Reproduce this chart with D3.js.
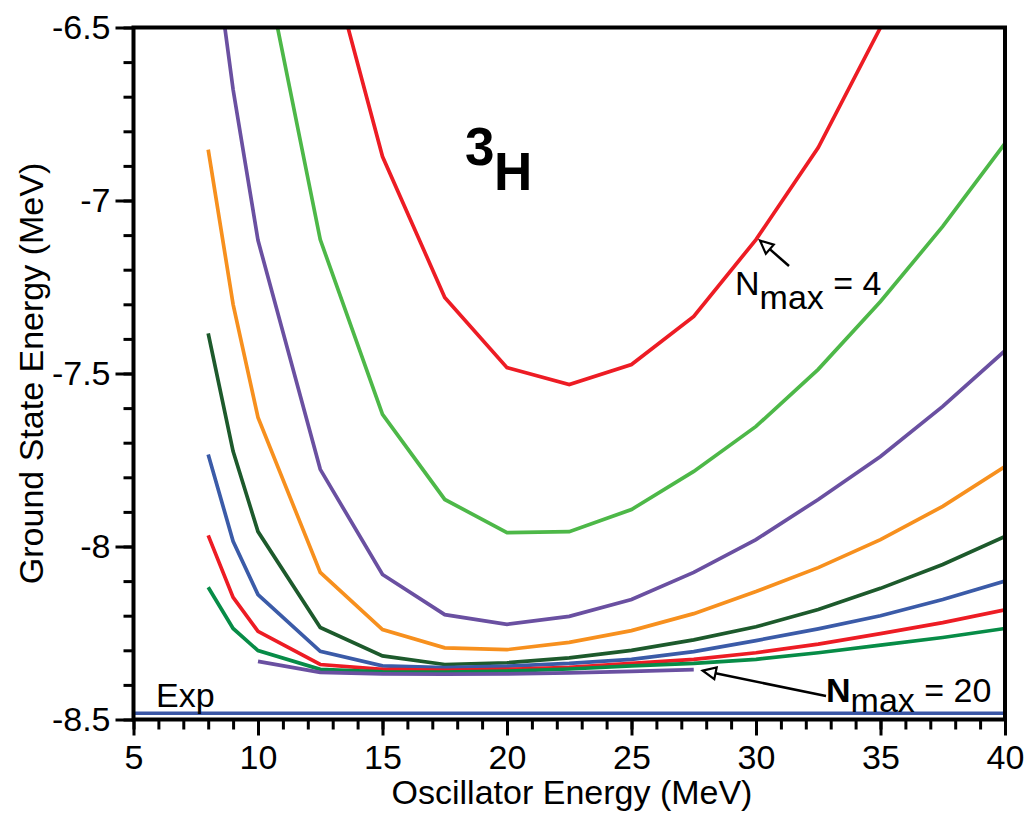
<!DOCTYPE html>
<html>
<head>
<meta charset="utf-8">
<script src="https://cdn.jsdelivr.net/npm/d3@7"></script>
<style>
  html, body { margin: 0; padding: 0; background: #fff; }
  svg { display: block; font-family: "Liberation Sans", Arial, Helvetica, sans-serif; }
</style>
</head>
<body>
<svg id="chart" width="1028" height="813"></svg>
<script>
// Oscillator energies (MeV) at which the ground state was computed
const hw = [8, 9, 10, 12.5, 15, 17.5, 20, 22.5, 25, 27.5, 30, 32.5, 35, 37.5, 40];

// Ground state energy (MeV) of 3H for each model-space truncation Nmax
const nmaxValues = [4, 6, 8, 10, 12, 14, 16, 18, 20];
const eN4  = [null, null, null, -6.20, -6.873, -7.280, -7.483, -7.532, -7.474, -7.335, -7.113, -6.847, -6.50, null, null];
const eN6  = [null, null, -6.22, -7.113, -7.618, -7.864, -7.960, -7.957, -7.893, -7.783, -7.653, -7.488, -7.292, -7.075, -6.835];
const eN8  = [-6.14, -6.679, -7.115, -7.777, -8.081, -8.197, -8.225, -8.202, -8.153, -8.075, -7.980, -7.864, -7.740, -7.595, -7.434];
const eN10 = [-6.853, -7.300, -7.627, -8.075, -8.240, -8.293, -8.298, -8.277, -8.243, -8.194, -8.130, -8.061, -7.980, -7.884, -7.769];
const eN12 = [-7.384, -7.725, -7.957, -8.234, -8.316, -8.341, -8.336, -8.322, -8.300, -8.270, -8.232, -8.182, -8.121, -8.052, -7.971];
const eN14 = [-7.734, -7.985, -8.139, -8.303, -8.345, -8.350, -8.346, -8.338, -8.326, -8.304, -8.272, -8.238, -8.200, -8.153, -8.100];
const eN16 = [-7.968, -8.147, -8.245, -8.341, -8.355, -8.358, -8.355, -8.349, -8.338, -8.326, -8.307, -8.282, -8.252, -8.220, -8.183];
const eN18 = [-8.118, -8.237, -8.301, -8.355, -8.362, -8.363, -8.360, -8.354, -8.345, -8.338, -8.326, -8.307, -8.285, -8.263, -8.237];
const eN20 = [null, null, -8.332, -8.364, -8.368, -8.369, -8.368, -8.365, -8.361, -8.356, null, null, null, null, null];
const seriesValues = [eN4, eN6, eN8, eN10, eN12, eN14, eN16, eN18, eN20];

// Experimental binding energy
const expEnergy = -8.482;

// Axis ticks
const xTicks = [5, 10, 15, 20, 25, 30, 35, 40];
const xMinorTicks = d3.range(5, 41, 1);
const yTicks = [-6.5, -7, -7.5, -8, -8.5];
const yMinorTicks = d3.range(-85, -64, 1).map(v => v / 10);

// Line colours, one per Nmax
const lineColors = ["#ed1c24", "#4db848", "#6a50a1", "#f7901e", "#1d5a2c",
                    "#3b5ba8", "#ed1c24", "#078c47", "#6a50a1"];
const expColor = "#3a56a5";

const svg = d3.select("#chart");
const plotLeft = 133.5, plotRight = 1005, plotTop = 27.5, plotBottom = 719.5;

const x = d3.scaleLinear().domain([5, 40]).range([plotLeft, plotRight]);
const y = d3.scaleLinear().domain([-8.5, -6.5]).range([plotBottom, plotTop]);

svg.append("defs").append("clipPath").attr("id", "plot-clip")
  .append("rect")
  .attr("x", plotLeft).attr("y", plotTop)
  .attr("width", plotRight - plotLeft).attr("height", plotBottom - plotTop);

const plot = svg.append("g").attr("clip-path", "url(#plot-clip)");

// Experimental value
plot.append("line")
  .attr("x1", x(5)).attr("x2", x(40))
  .attr("y1", y(expEnergy)).attr("y2", y(expEnergy))
  .attr("stroke", expColor).attr("stroke-width", 3.5);

// Nmax curves
const line = d3.line()
  .defined(d => d[1] !== null)
  .x(d => x(d[0]))
  .y(d => y(d[1]));

seriesValues.forEach((vals, i) => {
  const pts = hw.map((h, j) => [h, vals[j]]);
  plot.append("path")
    .datum(pts)
    .attr("d", line)
    .attr("fill", "none")
    .attr("stroke", lineColors[i])
    .attr("stroke-width", 3.7)
    .attr("stroke-linejoin", "miter");
});

// Axes
const fontSize = 34;

const yMinor = svg.append("g").attr("transform", `translate(${plotLeft},0)`)
  .call(d3.axisLeft(y).tickValues(yMinorTicks).tickSize(10).tickFormat(""));
const yMajor = svg.append("g").attr("transform", `translate(${plotLeft},0)`)
  .call(d3.axisLeft(y).tickValues(yTicks).tickSize(18).tickPadding(5)
    .tickFormat(d => String(d)));

const xMinor = svg.append("g").attr("transform", `translate(0,${plotBottom})`)
  .call(d3.axisBottom(x).tickValues(xMinorTicks).tickSize(10).tickFormat(""));
const xMajor = svg.append("g").attr("transform", `translate(0,${plotBottom})`)
  .call(d3.axisBottom(x).tickValues(xTicks).tickSize(16).tickPadding(9)
    .tickFormat(d => String(d)));

[yMinor, yMajor, xMinor, xMajor].forEach(g => {
  g.select(".domain").remove();
  g.selectAll(".tick line").attr("stroke", "#000").attr("stroke-width", 3);
  g.selectAll(".tick text")
    .attr("fill", "#000")
    .style("font-size", fontSize + "px")
    .style("font-family", "'Liberation Sans', Arial, Helvetica, sans-serif");
});

// Frame
svg.append("rect")
  .attr("x", plotLeft).attr("y", plotTop)
  .attr("width", plotRight - plotLeft).attr("height", plotBottom - plotTop)
  .attr("fill", "none").attr("stroke", "#000").attr("stroke-width", 4);

// Axis titles
svg.append("text")
  .attr("x", 572).attr("y", 804)
  .attr("text-anchor", "middle")
  .style("font-size", fontSize + "px")
  .text("Oscillator Energy (MeV)");

svg.append("text")
  .attr("transform", `translate(43,${(plotTop + plotBottom) / 2}) rotate(-90)`)
  .attr("text-anchor", "middle")
  .style("font-size", fontSize + "px")
  .text("Ground State Energy (MeV)");

// Nucleus label
const nuc = svg.append("text").style("font-weight", "bold").style("font-size", "53px");
nuc.append("tspan").attr("x", 465).attr("y", 165).text("3");
nuc.append("tspan").attr("x", 494).attr("y", 190).text("H");

// Exp label
svg.append("text")
  .attr("x", 156).attr("y", 707)
  .style("font-size", fontSize + "px")
  .text("Exp");

// Arrow with hollow head
function arrow(x1, y1, x2, y2) {
  const ang = Math.atan2(y2 - y1, x2 - x1);
  const len = 13, half = 6;
  const bx = x2 - len * Math.cos(ang), by = y2 - len * Math.sin(ang);
  const px = -Math.sin(ang) * half, py = Math.cos(ang) * half;
  svg.append("line")
    .attr("x1", x1).attr("y1", y1).attr("x2", bx).attr("y2", by)
    .attr("stroke", "#000").attr("stroke-width", 2.5);
  svg.append("polygon")
    .attr("points", [[x2, y2], [bx + px, by + py], [bx - px, by - py]].map(p => p.join(",")).join(" "))
    .attr("fill", "#fff").attr("stroke", "#000").attr("stroke-width", 2.2)
    .attr("stroke-linejoin", "miter");
}

// Nmax = 4 annotation
arrow(789, 266, x(30) + 4, y(eN4[10]) + 1);
const l4 = svg.append("text").attr("x", 735).attr("y", 295).style("font-size", fontSize + "px");
l4.append("tspan").text("N");
l4.append("tspan").attr("dy", 14).text("max");
l4.append("tspan").attr("dy", -14).text(" = " + nmaxValues[0]);

// Nmax = 20 annotation
arrow(826, 696, x(27.5) + 9, y(eN20[9]) + 1);
const l20 = svg.append("text").attr("x", 826).attr("y", 702).style("font-size", fontSize + "px");
l20.append("tspan").style("font-weight", "bold").text("N");
l20.append("tspan").attr("dy", 10).text("max");
l20.append("tspan").attr("dy", -10).text(" = " + nmaxValues[8]);
</script>
</body>
</html>
